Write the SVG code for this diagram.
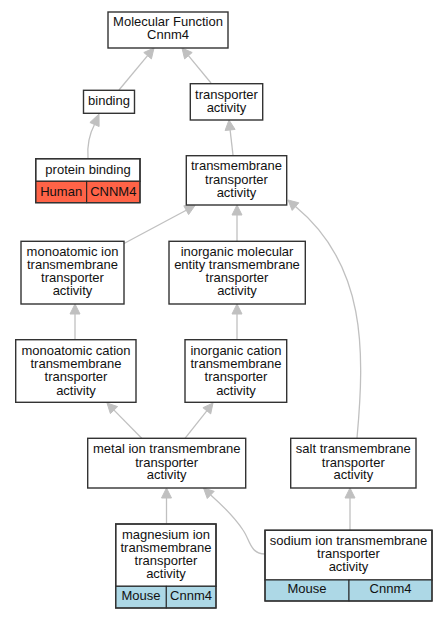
<svg xmlns="http://www.w3.org/2000/svg" width="447" height="619" viewBox="0 0 447 619">
<style>
.box{fill:#fff;stroke:#333;stroke-width:1.4}
.frame{fill:none;stroke:#333;stroke-width:1.4}
.cellr{fill:#ff6347;stroke:#222;stroke-width:1}
.cellb{fill:#add8e6;stroke:#222;stroke-width:1}
text{font-family:"Liberation Sans",Arial,sans-serif;font-size:13px;fill:#111;text-anchor:middle}
.e{fill:none;stroke:#c0c0c0;stroke-width:1.3}
.ah{fill:#c0c0c0;stroke:#c0c0c0;stroke-width:1}
</style>
<rect width="447" height="619" fill="#fff"/>
<g id="edges">
<path class="e" d="M119,90 L147.6,55.7"/><polygon class="ah" points="154,48 151.4,58.9 143.8,52.5"/>
<path class="e" d="M211,83 L188.4,55.7"/><polygon class="ah" points="182,48 192.2,52.5 184.6,58.9"/>
<path class="e" d="M88,158 C87,145 90,133 94.5,124.5"/><polygon class="ah" points="99,114 99.1,126.5 89.9,122.5"/>
<path class="e" d="M233,155 L230.1,129.9"/><polygon class="ah" points="229,120 235.1,129.4 225.1,130.5"/>
<path class="e" d="M124,243.5 L186.2,210.2"/><polygon class="ah" points="195,205.5 188.6,214.6 183.8,205.8"/>
<path class="e" d="M237,241 L237,215"/><polygon class="ah" points="237,205 242,215 232,215"/>
<path class="e" d="M357,438 C365,350 366,265 295.5,206.6"/><polygon class="ah" points="288,200 298.8,202.8 292.2,210.4"/>
<path class="e" d="M75,340 L75,314"/><polygon class="ah" points="75,304 80,314 70,314"/>
<path class="e" d="M237,340 L237,314"/><polygon class="ah" points="237,304 242,314 232,314"/>
<path class="e" d="M141.7,438.3 L114,410.1"/><polygon class="ah" points="107,403 117.6,406.6 110.4,413.6"/>
<path class="e" d="M185,438.3 L206.8,410.8"/><polygon class="ah" points="213,403 210.7,413.9 202.9,407.7"/>
<path class="e" d="M166.5,524 L166.5,498"/><polygon class="ah" points="166.5,488 171.5,498 161.5,498"/>
<path class="e" d="M265,554 C250,554 250,540 243,530 C235,518 222,505 210.7,494.9"/><polygon class="ah" points="203.5,488 214.2,491.3 207.3,498.5"/>
<path class="e" d="M350,530 L350,498"/><polygon class="ah" points="350,488 355,498 345,498"/>
</g>
<g id="mf">
<rect class="box" x="108" y="12" width="120" height="36"/>
<text x="168" y="26">Molecular Function</text>
<text x="168" y="39">Cnnm4</text>
</g>
<g id="binding">
<rect class="box" x="83.5" y="90.3" width="51" height="23"/>
<text x="109" y="105">binding</text>
</g>
<g id="transporter">
<rect class="box" x="190.3" y="83.7" width="72.4" height="36.3"/>
<text x="226.5" y="98.5">transporter</text>
<text x="226.5" y="112">activity</text>
</g>
<g id="protein-binding">
<rect class="box" x="35.7" y="158.7" width="104.3" height="22.6"/>
<rect class="cellr" x="35.7" y="181.3" width="51" height="21.4"/>
<rect class="cellr" x="86.7" y="181.3" width="53.3" height="21.4"/>
<rect class="frame" x="35.7" y="158.7" width="104.3" height="44"/>
<text x="88" y="173.5">protein binding</text>
<text x="61.2" y="196">Human</text>
<text x="113.3" y="196">CNNM4</text>
</g>
<g id="transmembrane">
<rect class="box" x="186.3" y="155.7" width="100.4" height="49.3"/>
<text x="236.5" y="170">transmembrane</text>
<text x="236.5" y="183.5">transporter</text>
<text x="236.5" y="197">activity</text>
</g>
<g id="monoatomic-ion">
<rect class="box" x="21" y="241.3" width="103" height="62.7"/>
<text x="72.5" y="255.5">monoatomic ion</text>
<text x="72.5" y="269">transmembrane</text>
<text x="72.5" y="282">transporter</text>
<text x="72.5" y="295">activity</text>
</g>
<g id="inorganic-molecular">
<rect class="box" x="169" y="241.3" width="136.3" height="62.7"/>
<text x="237" y="255.5">inorganic molecular</text>
<text x="237" y="269">entity transmembrane</text>
<text x="237" y="282">transporter</text>
<text x="237" y="295">activity</text>
</g>
<g id="monoatomic-cation">
<rect class="box" x="15.7" y="339.7" width="120.3" height="62.6"/>
<text x="76" y="354.5">monoatomic cation</text>
<text x="76" y="368">transmembrane</text>
<text x="76" y="381">transporter</text>
<text x="76" y="394.5">activity</text>
</g>
<g id="inorganic-cation">
<rect class="box" x="185" y="339.7" width="101.7" height="62.6"/>
<text x="236" y="354.5">inorganic cation</text>
<text x="236" y="368">transmembrane</text>
<text x="236" y="381">transporter</text>
<text x="236" y="394.5">activity</text>
</g>
<g id="metal-ion">
<rect class="box" x="87.7" y="438.3" width="158" height="49.7"/>
<text x="166.7" y="453">metal ion transmembrane</text>
<text x="166.7" y="466.5">transporter</text>
<text x="166.7" y="479">activity</text>
</g>
<g id="salt">
<rect class="box" x="290.7" y="438.3" width="125.3" height="49.7"/>
<text x="353.3" y="453">salt transmembrane</text>
<text x="353.3" y="466.5">transporter</text>
<text x="353.3" y="479">activity</text>
</g>
<g id="magnesium">
<rect class="box" x="115.7" y="524" width="100.3" height="62.3"/>
<rect class="cellb" x="115.7" y="586.3" width="50.6" height="21.7"/>
<rect class="cellb" x="166.3" y="586.3" width="49.7" height="21.7"/>
<rect class="frame" x="115.7" y="524" width="100.3" height="84"/>
<text x="166" y="538.5">magnesium ion</text>
<text x="166" y="552">transmembrane</text>
<text x="166" y="565">transporter</text>
<text x="166" y="578">activity</text>
<text x="141" y="600">Mouse</text>
<text x="191" y="600">Cnnm4</text>
</g>
<g id="sodium">
<rect class="box" x="265" y="530.3" width="167" height="49.7"/>
<rect class="cellb" x="265" y="580" width="84" height="21"/>
<rect class="cellb" x="349" y="580" width="83" height="21"/>
<rect class="frame" x="265" y="530.3" width="167" height="70.7"/>
<text x="348.5" y="545">sodium ion transmembrane</text>
<text x="348.5" y="558">transporter</text>
<text x="348.5" y="571">activity</text>
<text x="307" y="593">Mouse</text>
<text x="390.5" y="593">Cnnm4</text>
</g>
</svg>
